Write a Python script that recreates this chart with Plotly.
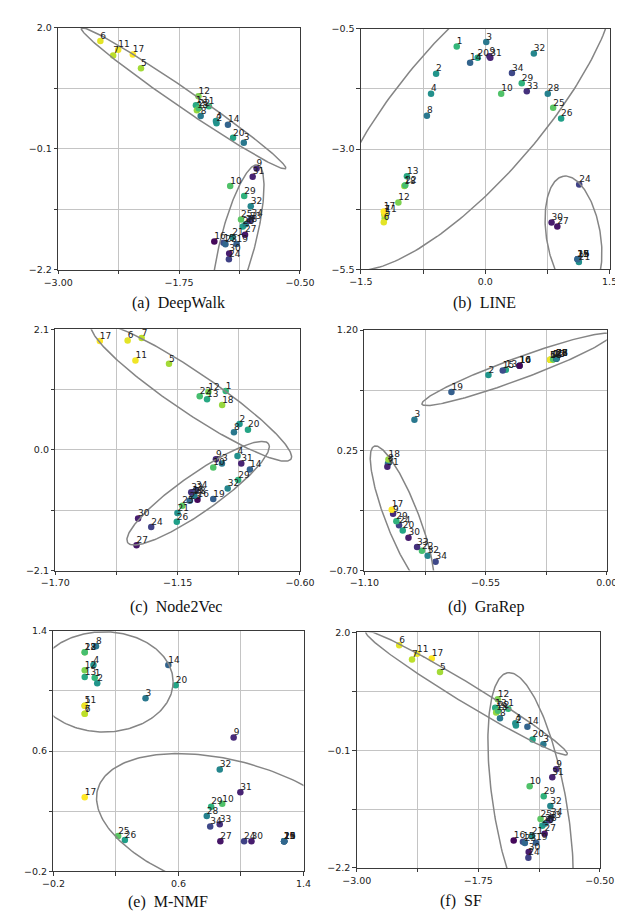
import numpy as np
import plotly.graph_objects as go

# ---------------- data ----------------
nodes = [str(i) for i in range(1, 35)]
node_color = [0.66, 0.52, 0.40, 0.50, 0.86, 0.96, 0.90, 0.40, 0.12, 0.72,
              0.98, 0.80, 0.60, 0.32, 0.24, 0.02, 1.00, 0.84, 0.30, 0.58,
              0.50, 0.70, 0.33, 0.20, 0.74, 0.56, 0.06, 0.44, 0.64, 0.08,
              0.10, 0.46, 0.14, 0.22]

deepwalk_x = [-1.442, -1.363, -1.081, -1.369, -2.144, -2.564, -2.432, -1.527, -0.949, -1.222,
              -2.380, -1.550, -1.576, -1.245, -1.291, -1.386, -2.229, -1.566, -1.156, -1.192,
              -1.199, -1.547, -1.271, -1.235, -1.110, -1.091, -1.068, -1.061, -1.077, -1.232,
              -0.989, -1.009, -1.018, -1.002]
deepwalk_y = [0.640, 0.343, 0.006, 0.383, 1.297, 1.771, 1.520, 0.469, -0.440, -0.743,
              1.620, 0.811, 0.657, 0.320, -1.731, -1.709, 1.537, 0.571, -1.749, 0.091,
              -1.634, 0.606, -1.754, -2.017, -1.326, -1.446, -1.589, -1.406, -0.920, -1.914,
              -0.583, -1.097, -1.349, -1.303]

line_x = [-0.344, -0.593, 0.012, -0.654, -1.213, -1.224, -1.218, -0.704, 0.050, 0.192,
          -1.205, -1.048, -0.945, -0.183, 1.114, 1.120, -1.224, -0.976, 1.114, -0.092,
          1.129, -0.965, 1.114, 1.133, 0.819, 0.915, 0.869, 0.754, 0.440, 0.800,
          0.061, 0.586, 0.501, 0.322]
line_y = [-0.870, -1.432, -0.774, -1.849, -4.438, -4.521, -4.360, -2.308, -1.070, -1.849,
          -4.350, -4.110, -3.568, -1.205, -5.295, -5.290, -4.301, -3.767, -5.295, -1.103,
          -5.349, -3.755, -5.295, -3.740, -2.144, -2.363, -4.610, -1.849, -1.630, -4.527,
          -1.103, -1.014, -1.801, -1.418]

n2v_x = [-0.934, -0.872, -0.951, -0.881, -1.189, -1.375, -1.312, -0.897, -0.978, -0.990,
         -1.340, -1.012, -1.018, -0.825, -1.082, -1.061, -1.500, -0.950, -0.990, -0.834,
         -1.151, -1.051, -1.096, -1.269, -1.129, -1.154, -1.335, -1.075, -0.878, -1.328,
         -0.864, -0.925, -1.089, -1.068]
n2v_y = [1.023, 0.450, -0.238, -0.106, 1.498, 1.905, 1.945, 0.306, -0.164, -0.307,
         1.556, 1.005, 0.879, -0.341, -0.783, -0.868, 1.894, 0.782, -0.857, 0.352,
         -1.098, 0.931, -0.886, -1.344, -0.972, -1.252, -1.659, -0.800, -0.525, -1.195,
         -0.238, -0.674, -0.737, -0.697]

grarep_x = [-0.243, -0.537, -0.873, -0.229, -0.256, -0.256, -0.256, -0.993, -0.970, -0.396,
            -0.256, -0.243, -0.458, -0.396, -0.472, -0.396, -0.976, -0.991, -0.705, -0.926,
            -0.229, -0.839, -0.229, -0.943, -0.243, -0.229, -0.229, -0.229, -0.955, -0.900,
            -0.996, -0.813, -0.861, -0.777]
grarep_y = [0.971, 0.846, 0.492, 0.976, 0.966, 0.966, 0.966, 0.146, -0.252, 0.919,
            0.966, 0.971, 0.888, 0.919, 0.882, 0.919, -0.219, 0.177, 0.711, -0.383,
            0.976, -0.544, 0.976, -0.341, 0.971, 0.976, 0.976, 0.976, -0.310, -0.440,
            0.120, -0.583, -0.513, -0.630]

mnmf_x = [0.064, 0.080, 0.389, 0.056, 0.000, 0.000, 0.000, 0.072, 0.953, 0.880,
          0.000, 0.000, 0.000, 0.535, 1.276, 1.276, 0.000, 0.000, 1.276, 0.582,
          1.276, 0.000, 1.276, 1.020, 0.214, 0.257, 0.868, 0.781, 0.809, 1.067,
          0.996, 0.864, 0.864, 0.803]
mnmf_y = [1.087, 1.052, 0.951, 1.172, 0.902, 0.848, 0.848, 1.297, 0.690, 0.249,
          0.902, 1.137, 1.093, 1.172, 0.000, 0.000, 0.293, 1.258, 0.000, 1.038,
          0.000, 1.258, 0.000, 0.000, 0.035, 0.008, 0.000, 0.168, 0.230, 0.000,
          0.326, 0.477, 0.113, 0.098]

sf_x = list(deepwalk_x)
sf_y = list(deepwalk_y)

titles = ["(a)\u00a0\u00a0DeepWalk", "(b)\u00a0\u00a0LINE", "(c)\u00a0\u00a0Node2Vec",
          "(d)\u00a0\u00a0GraRep", "(e)\u00a0\u00a0M-NMF", "(f)\u00a0\u00a0SF"]
x_ranges = [(-3.0, -0.5), (-1.5, 1.5), (-1.7, -0.6), (-1.1, 0.0), (-0.2, 1.4), (-3.0, -0.5)]
y_ranges = [(-2.2, 2.0), (-5.5, -0.5), (-2.1, 2.1), (-0.70, 1.20), (-0.2, 1.4), (-2.2, 2.0)]
x_ticklabels = [["\u22123.00", "\u22121.75", "\u22120.50"], ["\u22121.5", "0.0", "1.5"],
                ["\u22121.70", "\u22121.15", "\u22120.60"], ["\u22121.10", "\u22120.55", "0.00"],
                ["\u22120.2", "0.6", "1.4"], ["\u22123.00", "\u22121.75", "\u22120.50"]]
y_ticklabels = [["\u22122.2", "\u22120.1", "2.0"], ["\u22125.5", "\u22123.0", "\u22120.5"],
                ["\u22122.1", "0.0", "2.1"], ["\u22120.70", "0.25", "1.20"],
                ["\u22120.2", "0.6", "1.4"], ["\u22122.2", "\u22120.1", "2.0"]]

# ellipses: centre x, centre y (data), semi-axes (screen px), angle (deg)
ell_cx = [[-1.704, -1.140], [-0.155, 1.064], [-1.089, -1.058], [-0.410, -0.929], [0.123, 0.945], [-1.871, -1.212]]
ell_cy = [[0.777, -1.703], [-2.130, -4.815], [1.011, -0.754], [0.890, -0.284], [1.060, 0.092], [0.919, -1.149]]
ell_a = [[128.7, 80.0], [212.7, 61.7], [125.0, 89.3], [105.3, 78.3], [72.7, 146.7], [122.7, 140.0]]
ell_b = [[9.3, 18.3], [73.3, 28.3], [20.7, 19.3], [11.0, 17.3], [50.7, 66.7], [10.0, 38.3]]
ell_ang = [[-33.5, 75.0], [48.0, 100.0], [-33.0, 34.0], [19.5, -68.0], [0.0, -15.0], [-30.4, 100.0]]

xs_all = [deepwalk_x, line_x, n2v_x, grarep_x, mnmf_x, sf_x]
ys_all = [deepwalk_y, line_y, n2v_y, grarep_y, mnmf_y, sf_y]

# ---------------- layout geometry ----------------
W, H = 623, 918
rects = [(37, 291, 14, 259), (355, 616.3, 15, 258.3), (34, 291, 319, 563.3),
         (358.7, 613.3, 320, 563.3), (32, 294.7, 624.3, 867.7), (350.7, 606, 626, 864.3)]
cap_pos = [(163, 293), (485, 293), (161, 600), (486, 600), (152, 899), (460, 898)]

fig = go.Figure()
layout = dict(width=W, height=H, margin=dict(l=0, r=0, t=0, b=0),
              paper_bgcolor="white", plot_bgcolor="white", showlegend=False,
              annotations=[])

for i in range(6):
    sfx = "" if i == 0 else str(i + 1)
    xa, ya = "x" + sfx, "y" + sfx
    x0, x1, y0, y1 = rects[i]
    xr, yr = x_ranges[i], y_ranges[i]
    sx = (x1 - x0) / (xr[1] - xr[0])
    sy = (y1 - y0) / (yr[1] - yr[0])

    fig.add_trace(go.Scatter(
        x=xs_all[i], y=ys_all[i], mode="markers",
        marker=dict(size=6.5, color=node_color, colorscale="Viridis", cmin=0, cmax=1,
                    line=dict(width=0)),
        hoverinfo="skip", xaxis=xa, yaxis=ya))

    # ellipses
    for k in range(2):
        t = np.linspace(0, 2 * np.pi, 240)
        ex = ell_a[i][k] * np.cos(t)
        ey = ell_b[i][k] * np.sin(t)
        th = np.radians(ell_ang[i][k])
        rx = ex * np.cos(th) - ey * np.sin(th)
        ry = ex * np.sin(th) + ey * np.cos(th)
        fig.add_trace(go.Scatter(x=ell_cx[i][k] + rx / sx, y=ell_cy[i][k] + ry / sy,
                                 mode="lines", line=dict(color="#858585", width=1.5),
                                 hoverinfo="skip", xaxis=xa, yaxis=ya))

    fig.add_trace(go.Scatter(
        x=xs_all[i], y=ys_all[i], mode="text", text=nodes,
        textposition="top right",
        textfont=dict(family="DejaVu Sans", size=9, color="#1a1a1a"),
        cliponaxis=False, hoverinfo="skip", xaxis=xa, yaxis=ya))

    xt = list(np.linspace(xr[0], xr[1], 5))
    yt = list(np.linspace(yr[0], yr[1], 5))
    xl, yl = x_ticklabels[i], y_ticklabels[i]
    common = dict(showgrid=True, gridcolor="#c4c4c4", gridwidth=0.8, zeroline=False,
                  showline=True, linecolor="#3a3a3a", linewidth=1, mirror=True,
                  ticks="outside", ticklen=3.5, tickwidth=0.8, tickcolor="#3a3a3a",
                  tickfont=dict(family="DejaVu Sans", size=9.5, color="#222"),
                  tickmode="array")
    layout["xaxis" + sfx] = dict(common, domain=[x0 / W, x1 / W], range=list(xr),
                                 tickvals=xt, ticktext=[xl[0], "", xl[1], "", xl[2]],
                                 anchor=ya)
    layout["yaxis" + sfx] = dict(common, domain=[1 - y1 / H, 1 - y0 / H], range=list(yr),
                                 tickvals=yt, ticktext=[yl[0], "", yl[1], "", yl[2]],
                                 anchor=xa)
    cx, cy = cap_pos[i]
    layout["annotations"].append(dict(text=titles[i], x=cx / W, y=1 - cy / H,
                                      xref="paper", yref="paper", showarrow=False,
                                      xanchor="center", yanchor="middle",
                                      font=dict(family="Liberation Serif", size=16, color="#111")))

fig.update_layout(**layout)
fig.write_html("out.html")
